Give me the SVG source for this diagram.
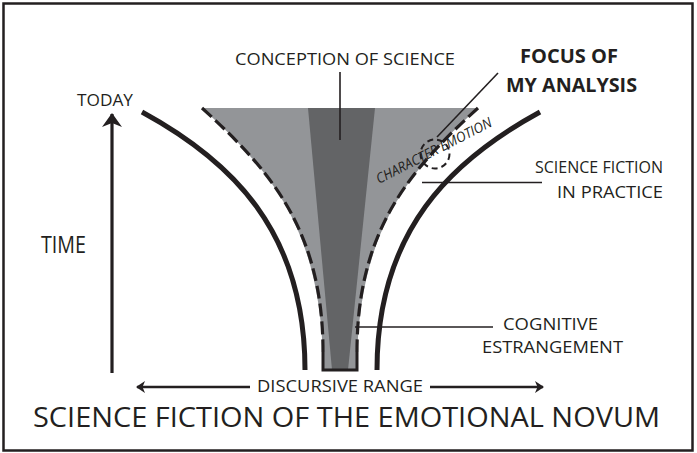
<svg xmlns="http://www.w3.org/2000/svg" width="697" height="453" viewBox="0 0 697 453">
<defs>
<style>
.t{font-family:"Open Sans","Liberation Sans",sans-serif;fill:#231f20;}
.b{font-weight:bold;}
.solid{fill:none;stroke:#231f20;stroke-width:5;}
.dash{fill:none;stroke:#231f20;stroke-width:3.2;stroke-dasharray:13 5;}
.lead{fill:none;stroke:#231f20;stroke-width:1.6;}
.arr{fill:none;stroke:#231f20;}
</style>
<marker id="headBig" viewBox="0 0 14 20" refX="13" refY="10" markerWidth="14" markerHeight="20" markerUnits="userSpaceOnUse" orient="auto-start-reverse">
<path d="M0,0 L14,10 L0,20 L4,10 z" fill="#231f20"/>
</marker>
<marker id="headSmall" viewBox="0 0 9 12" refX="8" refY="6" markerWidth="9" markerHeight="12" markerUnits="userSpaceOnUse" orient="auto-start-reverse">
<path d="M0,0 L9,6 L0,12 L2.5,6 z" fill="#231f20"/>
</marker>
</defs>
<rect x="3.5" y="3.5" width="689" height="447" fill="#fff" stroke="#231f20" stroke-width="2.5"/>

<g id="funnel">
<path d="M202,108 H478 C410,170 357,230 357,370 H323 C323,230 270,170 202,108 z" fill="#939598"/>
<path d="M308,108 H375 L348,370 H332 z" fill="#636466"/>
</g>

<g id="boundaries">
<path class="solid" d="M142,112 C230,160 305,230 305,370"/>
<path class="solid" d="M540,112 C452,160 377,230 377,370"/>
<path class="dash" d="M202,108 C270,170 323,230 323,352"/>
<path class="dash" d="M478,108 C410,170 357,230 357,352"/>
<path d="M323,352 V370 H357 V352" fill="none" stroke="#231f20" stroke-width="3"/>
</g>

<g id="focus-circle">
<circle cx="435" cy="154" r="14.5" fill="none" stroke="#231f20" stroke-width="2" stroke-dasharray="6 4"/>
<text class="t" x="379" y="184" font-size="14" font-style="italic" fill="#444" textLength="128" lengthAdjust="spacingAndGlyphs" transform="rotate(-27 379 184)">CHARACTER EMOTION</text>
</g>

<g id="connectors">
<line class="lead" x1="340" y1="72" x2="340" y2="140"/>
<line class="lead" x1="498" y1="73" x2="437" y2="137"/>
<line class="lead" x1="422" y1="182.5" x2="542" y2="182.5"/>
<line class="lead" x1="355" y1="327" x2="493" y2="327"/>
<line class="arr" stroke-width="3.2" x1="112" y1="373" x2="112" y2="114" marker-end="url(#headBig)"/>
<line class="arr" stroke-width="2.6" x1="250" y1="387" x2="137" y2="387" marker-end="url(#headSmall)"/>
<line class="arr" stroke-width="2.6" x1="430" y1="387" x2="543" y2="387" marker-end="url(#headSmall)"/>
</g>

<g id="label-conception"><text class="t" x="235" y="65" font-size="16" textLength="220" lengthAdjust="spacingAndGlyphs">CONCEPTION OF SCIENCE</text></g>
<g id="label-focus">
<text class="t b" x="520" y="63" font-size="20" textLength="98" lengthAdjust="spacingAndGlyphs">FOCUS OF</text>
<text class="t b" x="506" y="92" font-size="20" textLength="131" lengthAdjust="spacingAndGlyphs">MY ANALYSIS</text>
</g>
<g id="label-today"><text class="t" x="77" y="106" font-size="16" textLength="56" lengthAdjust="spacingAndGlyphs">TODAY</text></g>
<g id="label-time"><text class="t" x="41" y="253" font-size="23" textLength="45" lengthAdjust="spacingAndGlyphs">TIME</text></g>
<g id="label-practice">
<text class="t" x="535" y="173" font-size="16" textLength="128" lengthAdjust="spacingAndGlyphs">SCIENCE FICTION</text>
<text class="t" x="557" y="198" font-size="16" textLength="106" lengthAdjust="spacingAndGlyphs">IN PRACTICE</text>
</g>
<g id="label-cognitive">
<text class="t" x="503" y="330" font-size="16" textLength="95" lengthAdjust="spacingAndGlyphs">COGNITIVE</text>
<text class="t" x="482" y="353" font-size="16" textLength="141" lengthAdjust="spacingAndGlyphs">ESTRANGEMENT</text>
</g>
<g id="label-range"><text class="t" x="257" y="392" font-size="16" textLength="166" lengthAdjust="spacingAndGlyphs">DISCURSIVE RANGE</text></g>
<g id="title"><text class="t" x="33" y="427" font-size="28" textLength="627" lengthAdjust="spacingAndGlyphs">SCIENCE FICTION OF THE EMOTIONAL NOVUM</text></g>
</svg>
